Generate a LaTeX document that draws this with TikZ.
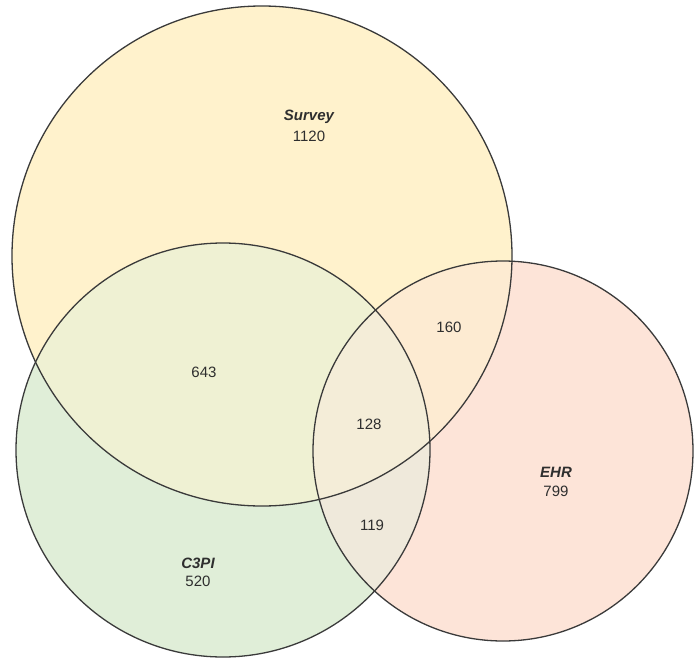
\documentclass[tikz,border=0pt]{standalone}
\usepackage{fontspec}
\setmainfont{Liberation Sans}
\usepackage{xcolor}
\usepackage{tikz}
\usetikzlibrary{positioning}

\definecolor{surveyfill}{HTML}{FFF2CC}
\definecolor{cpifill}{HTML}{E0EED8}
\definecolor{ehrfill}{HTML}{FDE4D8}
\definecolor{surveycpi}{HTML}{EFF1D3}
\definecolor{surveyehr}{HTML}{FDEBD2}
\definecolor{cpiehr}{HTML}{EFE9DB}
\definecolor{allthree}{HTML}{F4EDD8}
\definecolor{rimline}{HTML}{3A3A3A}
\definecolor{textgray}{HTML}{2E2E2E}

\tikzset{
  setname/.style={text=textgray,inner sep=0pt,font=\fontsize{15}{17}\selectfont\bfseries\itshape},
  setcount/.style={text=textgray,inner sep=0pt,font=\fontsize{15}{17}\selectfont},
  rim/.style={draw=rimline,line width=1.3pt}
}

\begin{document}
\begin{tikzpicture}[x=1pt,y=-1pt]
\useasboundingbox (0,0) rectangle (697,659);

\coordinate (survey) at (262,256);
\coordinate (cpi) at (223,450);
\coordinate (ehr) at (503,451);

% single sets
\fill[surveyfill] (survey) circle[radius=250pt];
\fill[cpifill] (cpi) circle[radius=207pt];
\fill[ehrfill] (ehr) circle[radius=190pt];

% overlaps
\begin{scope}
\clip (cpi) circle[radius=207pt];
\fill[cpiehr] (ehr) circle[radius=190pt];
\end{scope}
\begin{scope}
\clip (survey) circle[radius=250pt];
\fill[surveycpi] (cpi) circle[radius=207pt];
\fill[surveyehr] (ehr) circle[radius=190pt];
\clip (cpi) circle[radius=207pt];
\fill[allthree] (ehr) circle[radius=190pt];
\end{scope}

\draw[rim] (survey) circle[radius=250pt];
\draw[rim] (cpi) circle[radius=207pt];
\draw[rim] (ehr) circle[radius=190pt];

\node[setname] (surveyname) at (309,117) {Survey};
\node[setcount] (surveycount) at (309,136) {1120};
\node[setname] (cpiname) at (198,563) {C3PI};
\node[setcount] (cpicount) at (198,581) {520};
\node[setname] (ehrname) at (556,472) {EHR};
\node[setcount] (ehrcount) at (556,491) {799};
\node[setcount] (surveycpicount) at (204,372) {643};
\node[setcount] (surveyehrcount) at (449,327) {160};
\node[setcount] (allcount) at (369,424) {128};
\node[setcount] (cpiehrcount) at (372,525) {119};
\end{tikzpicture}
\end{document}
